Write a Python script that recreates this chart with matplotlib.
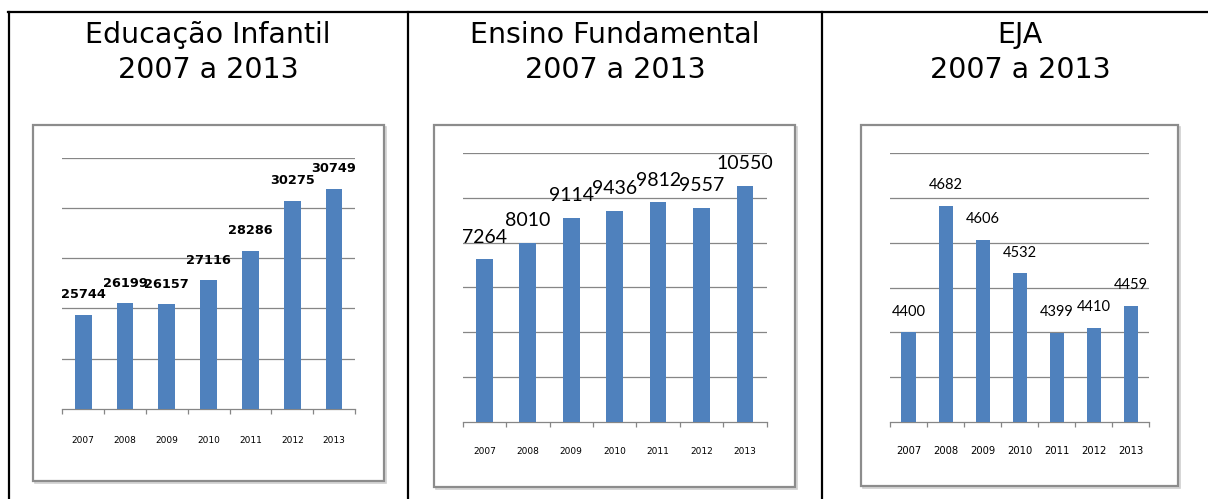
import matplotlib
matplotlib.use("Agg")
import matplotlib.pyplot as plt
from matplotlib.lines import Line2D
from matplotlib.patches import Rectangle
from matplotlib import font_manager

years = ["2007", "2008", "2009", "2010", "2011", "2012", "2013"]
infantil = [25744, 26199, 26157, 27116, 28286, 30275, 30749]
fundamental = [7264, 8010, 9114, 9436, 9812, 9557, 10550]
eja = [4400, 4682, 4606, 4532, 4399, 4410, 4459]
titles = ["Educação Infantil\n2007 a 2013", "Ensino Fundamental\n2007 a 2013", "EJA\n2007 a 2013"]

W, H = 1208, 499
fig = plt.figure(figsize=(W / 100, H / 100), dpi=100)
fig.patch.set_facecolor("white")

avail = {f.name for f in font_manager.fontManager.ttflist}
lato = "Lato" if "Lato" in avail else "DejaVu Sans"


def fx(x):
    return x / W


def fy(y):
    return 1 - y / H


# table lines
lw_tab = 1.6
fig.add_artist(Line2D([fx(8), fx(1208)], [fy(12), fy(12)], color="black", lw=lw_tab))
for x in (9, 408, 822):
    fig.add_artist(Line2D([fx(x), fx(x)], [fy(12), fy(499)], color="black", lw=lw_tab))

# titles
for cx, t in zip((208, 615, 1020), titles):
    l1, l2 = t.split("\n")
    fig.text(fx(cx), fy(43), l1, ha="center", va="baseline", fontsize=20.5,
             family="DejaVu Sans", color="black")
    fig.text(fx(cx), fy(78), l2, ha="center", va="baseline", fontsize=20.5,
             family="DejaVu Sans", color="black")

# chart frames (left, top, right, bottom in px)
boxes = [(33, 125, 384, 481), (434, 125, 795, 487), (861, 125, 1178, 486)]
for l, t, r, b in boxes:
    fig.add_artist(Rectangle((fx(l + 1.5), fy(b + 1.5)), fx(r - l), (b - t) / H,
                             facecolor="none", edgecolor="#d0d0d0", lw=1.2, zorder=-2))
    fig.add_artist(Rectangle((fx(l), fy(b)), fx(r - l), (b - t) / H,
                             facecolor="white", edgecolor="#8c8c8c", lw=1.6, zorder=-1))

specs = [
    dict(data=infantil, box=(62.3, 157.7, 355, 408.7), ylim=(22000, 32000), step=2000,
         width=0.4, lab_font=dict(family="DejaVu Sans", weight="bold", size=9.3),
         tick_font=dict(family="DejaVu Sans", size=6.5), pad=20),
    dict(data=fundamental, box=(462.7, 153.3, 766.7, 421.7), ylim=(0, 12000), step=2000,
         width=0.385, lab_font=dict(family=lato, weight="normal", size=14),
         tick_font=dict(family="DejaVu Sans", size=6.5), pad=18),
    dict(data=eja, box=(890, 153.3, 1149.3, 421.7), ylim=(4200, 4800), step=100,
         width=0.38, lab_font=dict(family=lato, weight="normal", size=10.5),
         tick_font=dict(family="DejaVu Sans", size=7.2), pad=17.5),
]

for s in specs:
    l, t, r, b = s["box"]
    ax = fig.add_axes([fx(l), fy(b), fx(r - l), (b - t) / H])
    ax.set_facecolor("none")
    x = list(range(len(years)))
    ax.bar(x, s["data"], width=s["width"], color="#4F81BD", zorder=3)
    lo, hi = s["ylim"]
    ax.set_ylim(lo, hi)
    ax.set_xlim(-0.5, len(years) - 0.5)
    ax.set_yticks([lo + s["step"] * k for k in range(1, int((hi - lo) / s["step"]) + 1)])
    ax.yaxis.grid(True, color="#868686", lw=0.9, zorder=0)
    ax.tick_params(axis="y", left=False, labelleft=False)
    for sp in ("top", "right", "left"):
        ax.spines[sp].set_visible(False)
    ax.spines["bottom"].set_color("#868686")
    ax.spines["bottom"].set_linewidth(0.9)
    ax.set_xticks(x)
    ax.set_xticklabels(years, **s["tick_font"])
    ax.tick_params(axis="x", which="major", length=0, pad=s["pad"], labelcolor="black")
    ax.set_xticks([k - 0.5 for k in range(len(years) + 1)], minor=True)
    ax.tick_params(axis="x", which="minor", length=3.5, width=0.9, color="#868686", direction="out")
    for xi, v in zip(x, s["data"]):
        ax.annotate(str(v), (xi, v), xytext=(0, 12), textcoords="offset points",
                    ha="center", va="baseline", color="black", **s["lab_font"])

fig.savefig("out.png", dpi=100, facecolor="white")
